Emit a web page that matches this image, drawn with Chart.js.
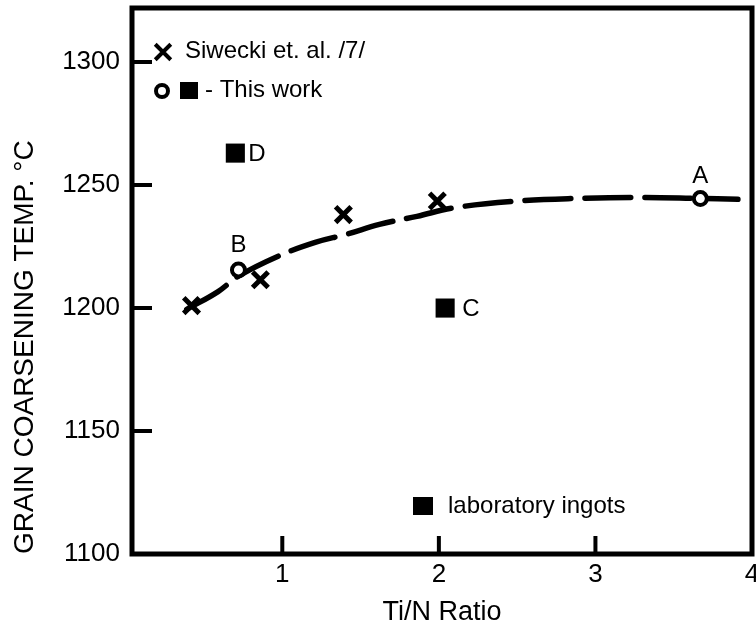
<!DOCTYPE html>
<html>
<head>
<meta charset="utf-8">
<script src="https://cdn.jsdelivr.net/npm/chart.js@4.4.1/dist/chart.umd.min.js"></script>
<style>
  html, body { margin: 0; padding: 0; background: #fff; }
  canvas { display: block; }
</style>
</head>
<body>
<canvas id="grain-chart" width="756" height="629"></canvas>
<script>
/* ---- values ---- */
const siweckiX = [0.42, 0.86, 1.39, 1.99];
const siweckiY = [1201, 1211.5, 1238, 1243.5];

const circleX = [3.67, 0.72];
const circleY = [1244.5, 1215.5];
const circleNames = ['A', 'B'];

const squareX = [2.04, 0.70];
const squareY = [1200, 1263];
const squareNames = ['C', 'D'];

// dashed trend line
const curveX = [0.39, 0.59, 0.72, 0.97, 1.21, 1.41, 1.62, 1.86, 2.10, 2.50, 2.90, 3.30, 3.65, 3.91];
const curveY = [1199.5, 1206.7, 1213, 1221, 1226.7, 1230, 1234, 1237.3, 1240.8, 1243.5, 1244.6, 1245, 1244.6, 1244.2];

const xTicks = [1, 2, 3, 4];
const yTicks = [1100, 1150, 1200, 1250, 1300];

const FONT = "'Liberation Sans', Arial, sans-serif";
const INK = '#000';

const toPts = (xs, ys) => xs.map((x, i) => ({ x, y: ys[i] }));
const noPadding = () => ({ left: 0, top: 0, right: 0, bottom: 0 });

/* ---- frame, inward ticks, point letters, legend ---- */
const decorations = {
  id: 'decorations',
  afterDatasetsDraw(chart) {
    const { ctx, chartArea: a, scales: { x, y } } = chart;
    ctx.save();
    ctx.strokeStyle = INK;
    ctx.fillStyle = INK;

    // box
    ctx.lineWidth = 5;
    ctx.strokeRect(a.left, a.top, a.right - a.left, a.bottom - a.top);

    // ticks pointing inward
    ctx.lineWidth = 4;
    ctx.beginPath();
    xTicks.slice(0, 3).forEach(v => {
      const px = x.getPixelForValue(v);
      ctx.moveTo(px, a.bottom);
      ctx.lineTo(px, a.bottom - 18);
    });
    yTicks.slice(1).forEach(v => {
      const py = y.getPixelForValue(v);
      ctx.moveTo(a.left, py);
      ctx.lineTo(a.left + 20, py);
    });
    ctx.stroke();

    // letters next to this-work points
    ctx.font = `24px ${FONT}`;
    ctx.textBaseline = 'middle';
    ctx.textAlign = 'center';
    circleNames.forEach((n, i) => {
      const px = x.getPixelForValue(circleX[i]);
      const py = y.getPixelForValue(circleY[i]);
      ctx.fillText(n, px, py - (n === 'A' ? 22 : 25));
    });
    ctx.textAlign = 'left';
    squareNames.forEach((n, i) => {
      const px = x.getPixelForValue(squareX[i]);
      const py = y.getPixelForValue(squareY[i]);
      ctx.fillText(n, px + (n === 'C' ? 17 : 13), py + 1);
    });

    // legend
    const lx = a.left, ly = a.top;
    Chart.helpers.drawPoint(ctx, { pointStyle: 'crossRot', radius: 11, borderWidth: 5 }, lx + 31, ly + 44);
    ctx.fillText('Siwecki et. al. /7/', lx + 53, ly + 43);

    ctx.lineWidth = 4;
    ctx.fillStyle = '#fff';
    Chart.helpers.drawPoint(ctx, { pointStyle: 'circle', radius: 6, borderWidth: 4 }, lx + 30, ly + 83);
    ctx.fillStyle = INK;
    ctx.fillRect(lx + 48, ly + 74, 18, 17);
    ctx.fillText('- This work', lx + 73, ly + 82);

    ctx.fillRect(lx + 281, ly + 489, 20, 18);
    ctx.fillText('laboratory ingots', lx + 316, ly + 498);

    ctx.restore();
  }
};

new Chart(document.getElementById('grain-chart'), {
  type: 'scatter',
  data: {
    datasets: [
      {
        label: 'Siwecki et. al. /7/',
        data: toPts(siweckiX, siweckiY),
        pointStyle: 'crossRot',
        pointRadius: 11,
        borderWidth: 5,
        borderColor: INK,
        order: 1,
      },
      {
        label: 'This work (circles)',
        data: toPts(circleX, circleY),
        pointStyle: 'circle',
        pointRadius: 6.5,
        borderWidth: 4,
        borderColor: INK,
        backgroundColor: '#fff',
        order: 1,
      },
      {
        label: 'This work (squares)',
        data: toPts(squareX, squareY),
        pointStyle: 'rect',
        pointRadius: 13.5,
        borderWidth: 0,
        backgroundColor: INK,
        order: 1,
      },
      {
        type: 'line',
        label: 'trend',
        data: toPts(curveX, curveY),
        borderColor: INK,
        borderWidth: 5.5,
        borderDash: [46, 14],
        borderCapStyle: 'round',
        tension: 0.4,
        pointRadius: 0,
        fill: false,
        order: 5,
      },
    ],
  },
  options: {
    responsive: false,
    animation: false,
    devicePixelRatio: 1,
    layout: { autoPadding: false, padding: { top: 8, right: 4, left: 0, bottom: 0 } },
    plugins: { legend: { display: false }, tooltip: { enabled: false } },
    scales: {
      x: {
        type: 'linear',
        min: 0.04,
        max: 4,
        afterBuildTicks: s => { s.ticks = xTicks.map(v => ({ value: v })); },
        afterFit: s => {
          s.height = 75;
          s.paddingLeft = 0; s.paddingRight = 0;
          s.getPadding = noPadding;
        },
        grid: { display: false, drawTicks: false },
        border: { display: false },
        ticks: { color: INK, padding: 5, font: { family: FONT, size: 26 }, autoSkip: false, maxRotation: 0, callback: v => String(v) },
        title: { display: true, text: 'Ti/N Ratio', color: INK, padding: { top: 0, bottom: 0 }, font: { family: FONT, size: 27 } },
      },
      y: {
        type: 'linear',
        min: 1100,
        max: 1322,
        afterBuildTicks: s => { s.ticks = yTicks.map(v => ({ value: v })); },
        afterFit: s => {
          s.width = 132;
          s.paddingTop = 0; s.paddingBottom = 0;
          s.getPadding = noPadding;
        },
        grid: { display: false, drawTicks: false },
        border: { display: false },
        ticks: { color: INK, padding: 12, font: { family: FONT, size: 26 }, callback: v => String(v) },
        title: { display: true, text: 'GRAIN COARSENING TEMP. °C', color: INK, align: 'start', padding: { top: 8, bottom: 0 }, font: { family: FONT, size: 28 } },
      },
    },
  },
  plugins: [decorations],
});
</script>
</body>
</html>
